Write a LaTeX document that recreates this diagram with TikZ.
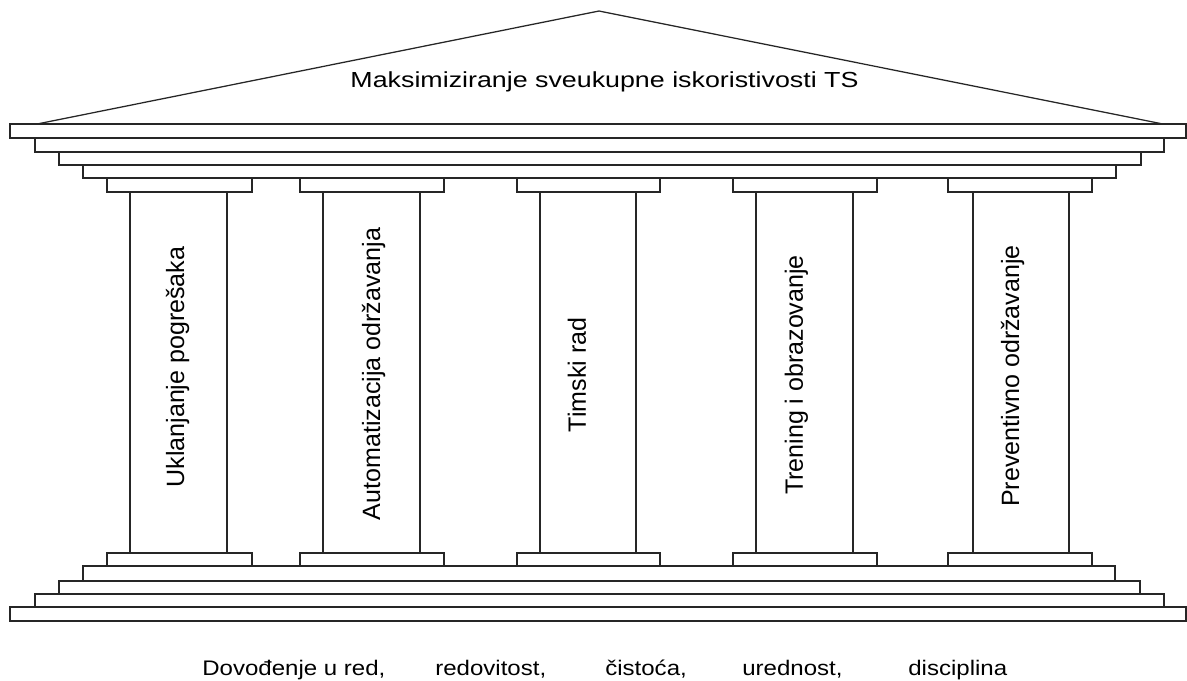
\documentclass[tikz,border=0pt]{standalone}
\usepackage{fontspec}
\setmainfont{Liberation Sans}
\begin{document}
\begin{tikzpicture}[x=0.025cm, y=-0.025cm,
  slab/.style={draw=black!85,fill=white,line width=0.9pt},
  pillartxt/.style={rotate=90,inner sep=0pt,font=\fontsize{17.8}{20}\selectfont},
  flattxt/.style={inner sep=0pt,font=\fontsize{15}{18}\selectfont}]
\useasboundingbox (0,0) rectangle (1187,680);
% roof
\draw[slab] (37,124) -- (599,11) -- (1163,124);
\node[flattxt,anchor=base,font=\fontsize{15.5}{18}\selectfont] (goal) at (604.5,87) {\scalebox{1.23}[1]{Maksimiziranje sveukupne iskoristivosti TS}};
% entablature
\draw[slab] (10,124) rectangle (1186,138);
\draw[slab] (35,138) rectangle (1164,152);
\draw[slab] (59,152) rectangle (1141,165);
\draw[slab] (83,165) rectangle (1116,178);
% pillars
\draw[slab] (107,178) rectangle (252,192); \draw[slab] (130,192) rectangle (227,553); \draw[slab] (107,553) rectangle (252,566);
\draw[slab] (300,178) rectangle (444,192); \draw[slab] (323,192) rectangle (420,553); \draw[slab] (300,553) rectangle (444,566);
\draw[slab] (517,178) rectangle (660,192); \draw[slab] (540,192) rectangle (636,553); \draw[slab] (517,553) rectangle (660,566);
\draw[slab] (733,178) rectangle (877,192); \draw[slab] (756,192) rectangle (853,553); \draw[slab] (733,553) rectangle (877,566);
\draw[slab] (948,178) rectangle (1092,192); \draw[slab] (973,192) rectangle (1069,553); \draw[slab] (948,553) rectangle (1092,566);
\node[pillartxt] (p1) at (177.5,367) {Uklanjanje pogrešaka};
\node[pillartxt] (p2) at (373.5,374) {Automatizacija održavanja};
\node[pillartxt] (p3) at (577,375) {Timski rad};
\node[pillartxt] (p4) at (796.5,375) {Trening i obrazovanje};
\node[pillartxt] (p5) at (1012.5,376) {Preventivno održavanje};
% steps
\draw[slab] (83,566) rectangle (1115,581);
\draw[slab] (59,581) rectangle (1140,594);
\draw[slab] (35,594) rectangle (1164,607);
\draw[slab] (10,607) rectangle (1186,621);
% foundation words
\node[flattxt,anchor=base west] (w1) at (202,675) {\scalebox{1.14}[1]{Dovođenje u red,}};
\node[flattxt,anchor=base west] (w2) at (435,675) {\scalebox{1.14}[1]{redovitost,}};
\node[flattxt,anchor=base west] (w3) at (605,675) {\scalebox{1.14}[1]{čistoća,}};
\node[flattxt,anchor=base west] (w4) at (742,675) {\scalebox{1.14}[1]{urednost,}};
\node[flattxt,anchor=base west] (w5) at (908,675) {\scalebox{1.14}[1]{disciplina}};
\end{tikzpicture}
\end{document}
